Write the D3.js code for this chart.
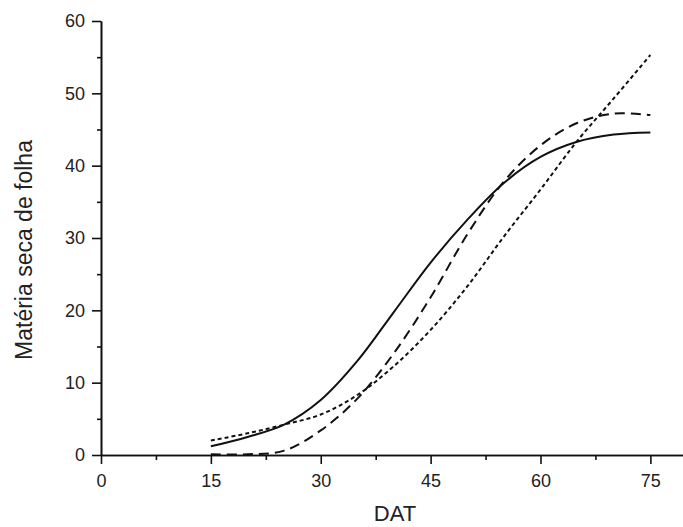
<!DOCTYPE html>
<html>
<head>
<meta charset="utf-8">
<script src="https://cdn.jsdelivr.net/npm/d3@7"></script>
<style>
  body { margin: 0; background: #fff; }
  svg { display: block; }
  .axis text { font-family: "Liberation Sans", Arial, sans-serif; font-size: 18px; fill: #222; }
  .axis path, .axis line { stroke: #111; stroke-width: 1.6; }
</style>
</head>
<body>
<svg id="chart" width="683" height="527"></svg>
<script>
// days after transplanting
var dat = [15, 20, 25, 30, 35, 40, 45, 50, 55, 60, 65, 70, 75];
// fitted curves
var solidVals  = [1.2, 2.5, 4.2, 7.6, 13.0, 19.8, 26.6, 32.5, 37.6, 41.2, 43.3, 44.3, 44.6];
var dashVals   = [0.1, 0.1, 0.6, 3.4, 7.8, 14.1, 21.8, 30.5, 37.8, 42.8, 45.9, 47.2, 47.0];
var dotVals    = [2.0, 3.0, 4.2, 5.6, 8.3, 12.3, 17.3, 23.3, 30.2, 36.7, 43.4, 49.3, 55.3];

var xTicks = [0, 15, 30, 45, 60, 75];
var xMinor = [7.5, 22.5, 37.5, 52.5, 67.5];
var yTicks = [0, 10, 20, 30, 40, 50, 60];
var yMinor = [5, 15, 25, 35, 45, 55];

var svg = d3.select("#chart");

var x = d3.scaleLinear().domain([0, 80]).range([101, 687]);
var y = d3.scaleLinear().domain([0, 60]).range([455, 21]);

// minor ticks first so majors sit on top
svg.append("g")
  .attr("class", "axis")
  .attr("transform", "translate(0," + y(0) + ")")
  .call(d3.axisBottom(x).tickValues(xMinor).tickSize(5).tickSizeOuter(0).tickFormat(""));

svg.append("g")
  .attr("class", "axis")
  .attr("transform", "translate(" + x(0) + ",0)")
  .call(d3.axisLeft(y).tickValues(yMinor).tickSize(4).tickSizeOuter(0).tickFormat(""));

svg.append("g")
  .attr("class", "axis")
  .attr("transform", "translate(0," + y(0) + ")")
  .call(d3.axisBottom(x).tickValues(xTicks).tickSize(9).tickSizeOuter(0).tickPadding(10));

svg.append("g")
  .attr("class", "axis")
  .attr("transform", "translate(" + x(0) + ",0)")
  .call(d3.axisLeft(y).tickValues(yTicks).tickSize(9).tickSizeOuter(0).tickPadding(7));

// axis titles
svg.append("text")
  .attr("x", 395).attr("y", 521)
  .attr("text-anchor", "middle")
  .style("font-family", "Liberation Sans, Arial, sans-serif")
  .style("font-size", "22px")
  .style("fill", "#222")
  .text("DAT");

svg.append("text")
  .attr("transform", "translate(32,250) rotate(-90)")
  .attr("text-anchor", "middle")
  .style("font-family", "Liberation Sans, Arial, sans-serif")
  .style("font-size", "23px")
  .style("fill", "#222")
  .text("Matéria seca de folha");

var line = d3.line()
  .x(function(d, i) { return x(dat[i]); })
  .y(function(d) { return y(d); })
  .curve(d3.curveCatmullRom);

var series = [
  { vals: solidVals, dash: null },
  { vals: dashVals, dash: "10,6" },
  { vals: dotVals, dash: "4,3" }
];

svg.append("g").selectAll("path")
  .data(series)
  .enter().append("path")
    .attr("d", function(d) { return line(d.vals); })
    .attr("fill", "none")
    .attr("stroke", "#111")
    .attr("stroke-width", 2)
    .attr("stroke-dasharray", function(d) { return d.dash; });
</script>
</body>
</html>
